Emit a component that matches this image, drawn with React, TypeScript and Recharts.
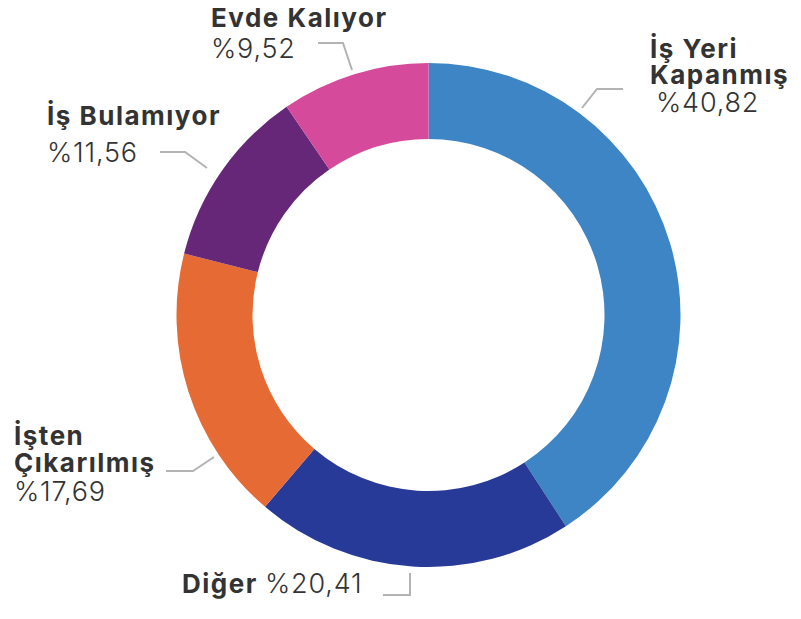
import React from 'react';
import { PieChart, Pie, Cell } from 'recharts';

const categories = ['İş Yeri Kapanmış', 'Diğer', 'İşten Çıkarılmış', 'İş Bulamıyor', 'Evde Kalıyor'];
const values = [40.82, 20.41, 17.69, 11.56, 9.52];
const valueLabels = ['%40,82', '%20,41', '%17,69', '%11,56', '%9,52'];

const COLORS = ['#3e85c6', '#283a97', '#e56a34', '#672778', '#d64a9b'];

const data = categories.map((name, i) => ({ name, value: values[i] }));

// label placement for each slice: title lines, value line, leader line
const LAYOUT = [
    { title: ['İş Yeri', 'Kapanmış'], tx: 650, ty: [58, 84], vx: 656, vy: 112, line: '582,108 597,89 623,89' },
    { title: ['Diğer'], tx: 182, ty: [593], vx: 265, vy: 593, line: '383,595 410,595 410,573' },
    { title: ['İşten', 'Çıkarılmış'], tx: 14, ty: [445, 472], vx: 14, vy: 501, line: '166,471 193,471 214,457' },
    { title: ['İş Bulamıyor'], tx: 47, ty: [125], vx: 47, vy: 162, line: '160,152 185,152 207,168' },
    { title: ['Evde Kalıyor'], tx: 211, ty: [27], vx: 211, vy: 58, line: '318,43 343,43 352,70' },
];

const FONT = 'Inter, "Open Sans", sans-serif';

const renderLabel = (props: any) => {
    const { index } = props;
    const l = LAYOUT[index];
    return (
        <g key={`lbl-${index}`}>
            <polyline points={l.line} fill="none" stroke="#b3b3b3" strokeWidth={2} />
            {l.title.map((t, j) => (
                <text key={j} x={l.tx} y={l.ty[j]} fill="#333333" fontFamily={FONT} fontWeight={700} fontSize={26} letterSpacing={1.5} textAnchor="start">
                    {t}
                </text>
            ))}
            <text x={l.vx} y={l.vy} fill="#333333" fontFamily={FONT} fontWeight={300} fontSize={27} letterSpacing={0.8} textAnchor="start">
                {valueLabels[index]}
            </text>
        </g>
    );
};

const App = () => {
    return (
        <div style={{ position: 'absolute', left: 0, top: 0, width: 801, height: 619, background: '#ffffff' }}>
            <PieChart width={801} height={619} margin={{ top: 0, right: 0, bottom: 0, left: 0 }}>
                <Pie
                    data={data}
                    dataKey="value"
                    cx={428.5}
                    cy={315}
                    innerRadius={176}
                    outerRadius={252}
                    startAngle={90}
                    endAngle={-270}
                    stroke="none"
                    label={renderLabel}
                    labelLine={false}
                    isAnimationActive={false}
                >
                    {data.map((entry, index) => (
                        <Cell key={`cell-${index}`} fill={COLORS[index]} />
                    ))}
                </Pie>
            </PieChart>
        </div>
    );
};

export default App;
